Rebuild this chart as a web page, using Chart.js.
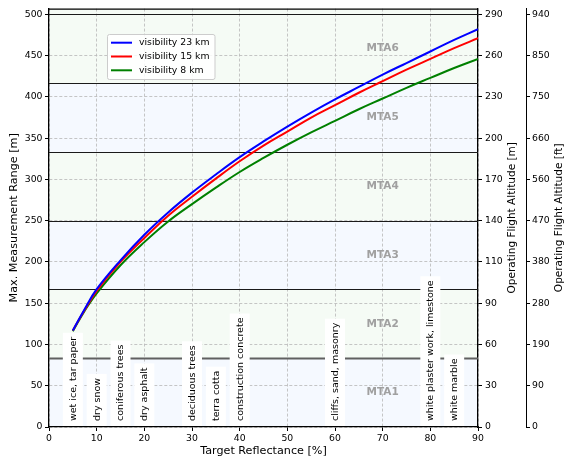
<!DOCTYPE html>
<html>
<head>
<meta charset="utf-8">
<script src="https://cdn.jsdelivr.net/npm/chart.js@4.4.1/dist/chart.umd.min.js"></script>
<style>
  html, body { margin: 0; padding: 0; background: #fff; }
</style>
</head>
<body>
<canvas id="rangeChart" width="565" height="461"></canvas>
<script>
// target reflectance [%] and max range [m] per visibility
const reflectance = [5, 7.5, 10, 15, 20, 25, 30, 35, 40, 45, 50, 55, 60, 65, 70, 75, 80, 85, 90];
const vis23 = [117, 143, 167, 202, 233, 260, 284, 306, 327, 346, 364, 381, 397, 412, 427, 441, 455, 469, 482];
const vis15 = [117, 142, 165, 200, 229, 256, 279, 301, 322, 341, 358, 375, 390, 405, 419, 433, 446, 459, 471];
const vis8  = [116, 141, 162, 196, 224, 249, 270, 290, 309, 326, 342, 357, 371, 385, 398, 411, 423, 435, 446];
const seriesNames = ['visibility 23 km', 'visibility 15 km', 'visibility 8 km'];
const seriesColors = ['#0000ff', '#ff0000', '#008000'];

// axis ticks
const rangeTicks = [0, 50, 100, 150, 200, 250, 300, 350, 400, 450, 500];
const altMTicks = ['0', '30', '60', '90', '110', '140', '170', '200', '230', '260', '290'];
const altFtTicks = ['0', '90', '190', '280', '380', '470', '560', '660', '750', '850', '940'];

// MTA zones
const mtaBounds = [0, 83.33, 166.67, 250, 333.33, 416.67, 500];
const mtaNames = ['MTA1', 'MTA2', 'MTA3', 'MTA4', 'MTA5', 'MTA6'];
const mtaLabelX = 70;

// materials
const materials = ['wet ice, tar paper', 'dry snow', 'coniferous trees', 'dry asphalt', 'deciduous trees',
  'terra cotta', 'construction concrete', 'cliffs, sand, masonry', 'white plaster work, limestone', 'white marble'];
const materialX = [5, 10, 15, 20, 30, 35, 40, 60, 80, 85];

const FONT = "'DejaVu Sans', sans-serif";
const gridGray = '#b8b8b8';

const toPoints = ys => reflectance.map((x, i) => ({ x, y: ys[i] }));

const zonesPlugin = {
  id: 'zones',
  beforeDraw(chart) {
    const { ctx, chartArea: a, scales: { y } } = chart;
    ctx.save();
    ctx.fillStyle = '#fff';
    ctx.fillRect(0, 0, chart.width, chart.height);
    for (let i = 0; i < mtaNames.length; i++) {
      const y0 = y.getPixelForValue(mtaBounds[i]);
      const y1 = i === mtaNames.length - 1 ? a.top : y.getPixelForValue(mtaBounds[i + 1]);
      ctx.fillStyle = i % 2 === 0 ? 'rgb(245,249,255)' : 'rgb(245,251,245)';
      ctx.fillRect(a.left, y1, a.right - a.left, y0 - y1);
    }
    ctx.restore();
  },
  beforeDatasetsDraw(chart) {
    const { ctx, chartArea: a, scales: { y } } = chart;
    ctx.save();
    for (let i = 1; i < mtaBounds.length; i++) {
      const py = Math.round(y.getPixelForValue(mtaBounds[i])) + 0.5;
      ctx.strokeStyle = i === 1 ? '#606060' : '#1a1a1a';
      ctx.lineWidth = i === 1 ? 2 : 1.2;
      ctx.beginPath();
      ctx.moveTo(a.left, py);
      ctx.lineTo(a.right, py);
      ctx.stroke();
    }
    ctx.restore();
  },
  afterDatasetsDraw(chart) {
    const { ctx, chartArea: a, scales: { x, y } } = chart;
    ctx.save();
    ctx.beginPath();
    ctx.rect(a.left, a.top, a.right - a.left, a.bottom - a.top);
    ctx.clip();

    // material labels
    ctx.font = '9.5px ' + FONT;
    ctx.textAlign = 'left';
    ctx.textBaseline = 'middle';
    materials.forEach((name, i) => {
      const px = x.getPixelForValue(materialX[i]);
      const base = y.getPixelForValue(0);
      const w = ctx.measureText(name).width;
      ctx.save();
      ctx.translate(px, base - 6);
      ctx.rotate(-Math.PI / 2);
      ctx.fillStyle = '#fff';
      ctx.fillRect(-5, -10, w + 9, 20);
      ctx.fillStyle = '#000';
      ctx.fillText(name, 0, 0.5);
      ctx.restore();
    });

    // MTA labels
    ctx.font = 'bold 10.5px ' + FONT;
    ctx.textAlign = 'center';
    ctx.fillStyle = '#a0a0a0';
    mtaNames.forEach((name, i) => {
      const mid = (mtaBounds[i] + mtaBounds[i + 1]) / 2;
      ctx.fillText(name, x.getPixelForValue(mtaLabelX), y.getPixelForValue(mid));
    });
    ctx.restore();

    // top frame
    ctx.save();
    ctx.strokeStyle = '#000';
    ctx.lineWidth = 1.3;
    ctx.beginPath();
    ctx.moveTo(a.left, a.top + 0.5);
    ctx.lineTo(a.right, a.top + 0.5);
    ctx.stroke();
    ctx.restore();
  },
  afterDraw(chart) {
    const { ctx, chartArea: a, scales } = chart;
    const midY = (a.top + a.bottom) / 2;
    ctx.save();
    ctx.fillStyle = '#000';
    ctx.font = '11.2px ' + FONT;
    ctx.textAlign = 'center';
    ctx.textBaseline = 'middle';
    ctx.fillText('Target Reflectance [%]', (a.left + a.right) / 2, 451);
    const vtitle = (txt, px) => {
      ctx.save();
      ctx.translate(px, midY);
      ctx.rotate(-Math.PI / 2);
      ctx.fillText(txt, 0, 0);
      ctx.restore();
    };
    vtitle('Max. Measurement Range [m]', 14);
    ctx.font = '10.5px ' + FONT;
    vtitle('Operating Flight Altitude [m]', scales.y1.left + 34);
    vtitle('Operating Flight Altitude [ft]', scales.y2.left + 33);

    // legend
    ctx.font = '9.3px ' + FONT;
    ctx.textAlign = 'left';
    const tw = Math.max(...seriesNames.map(s => ctx.measureText(s).width));
    const lx = 107, ly = 34;
    ctx.fillStyle = 'rgba(255,255,255,0.85)';
    ctx.strokeStyle = '#cccccc';
    ctx.lineWidth = 1;
    ctx.beginPath();
    ctx.roundRect(lx + 0.5, ly + 0.5, tw + 37, 45, 2);
    ctx.fill();
    ctx.stroke();
    seriesNames.forEach((s, i) => {
      const yy = ly + 8.7 + i * 13.8;
      ctx.strokeStyle = seriesColors[i];
      ctx.lineWidth = 2;
      ctx.beginPath();
      ctx.moveTo(lx + 4, yy);
      ctx.lineTo(lx + 25, yy);
      ctx.stroke();
      ctx.fillStyle = '#000';
      ctx.fillText(s, lx + 32, yy);
    });
    ctx.restore();
  }
};

const tickFont = { family: FONT, size: 9.3 };

new Chart(document.getElementById('rangeChart'), {
  type: 'line',
  data: {
    datasets: [vis23, vis15, vis8].map((ys, i) => ({
      label: seriesNames[i],
      data: toPoints(ys),
      borderColor: seriesColors[i],
      borderWidth: 2,
      pointRadius: 0,
      tension: 0.4,
      fill: false,
      yAxisID: 'y'
    }))
  },
  options: {
    responsive: false,
    animation: false,
    devicePixelRatio: 1,
    layout: { padding: { top: 8, left: 0, right: 0, bottom: 0 } },
    plugins: { legend: { display: false }, tooltip: { enabled: false } },
    scales: {
      x: {
        type: 'linear', min: 0, max: 90,
        ticks: { stepSize: 10, font: tickFont, color: '#000', padding: 2, maxRotation: 0 },
        grid: { color: gridGray, lineWidth: 0.8, tickLength: 4, tickColor: '#000', tickWidth: 1, tickBorderDash: [] },
        border: { color: '#000', width: 1.3, dash: [3, 2] },
        afterFit: s => { s.height = 34; }
      },
      y: {
        type: 'linear', position: 'left', min: 0, max: 507,
        ticks: { stepSize: 50, includeBounds: false, font: tickFont, color: '#000', padding: 2.5 },
        grid: { color: gridGray, lineWidth: 0.8, tickLength: 4, tickColor: '#000', tickWidth: 1, tickBorderDash: [] },
        border: { color: '#000', width: 1.3, dash: [3, 2] },
        afterFit: s => { s.width = 49; }
      },
      y1: {
        type: 'linear', position: 'right', min: 0, max: 507,
        ticks: {
          stepSize: 50, includeBounds: false, font: tickFont, color: '#000', padding: 3,
          callback: v => altMTicks[rangeTicks.indexOf(v)]
        },
        grid: { drawOnChartArea: false, tickLength: 4, tickColor: '#000', tickWidth: 1 },
        border: { color: '#000', width: 1.3 },
        afterFit: s => { s.width = 48; }
      },
      y2: {
        type: 'linear', position: 'right', min: 0, max: 507,
        ticks: {
          stepSize: 50, includeBounds: false, font: tickFont, color: '#000', padding: 2,
          callback: v => altFtTicks[rangeTicks.indexOf(v)]
        },
        grid: { drawOnChartArea: false, tickLength: 4, tickColor: '#000', tickWidth: 1 },
        border: { color: '#000', width: 1 },
        afterFit: s => { s.width = 39; }
      }
    }
  },
  plugins: [zonesPlugin]
});
</script>
</body>
</html>
